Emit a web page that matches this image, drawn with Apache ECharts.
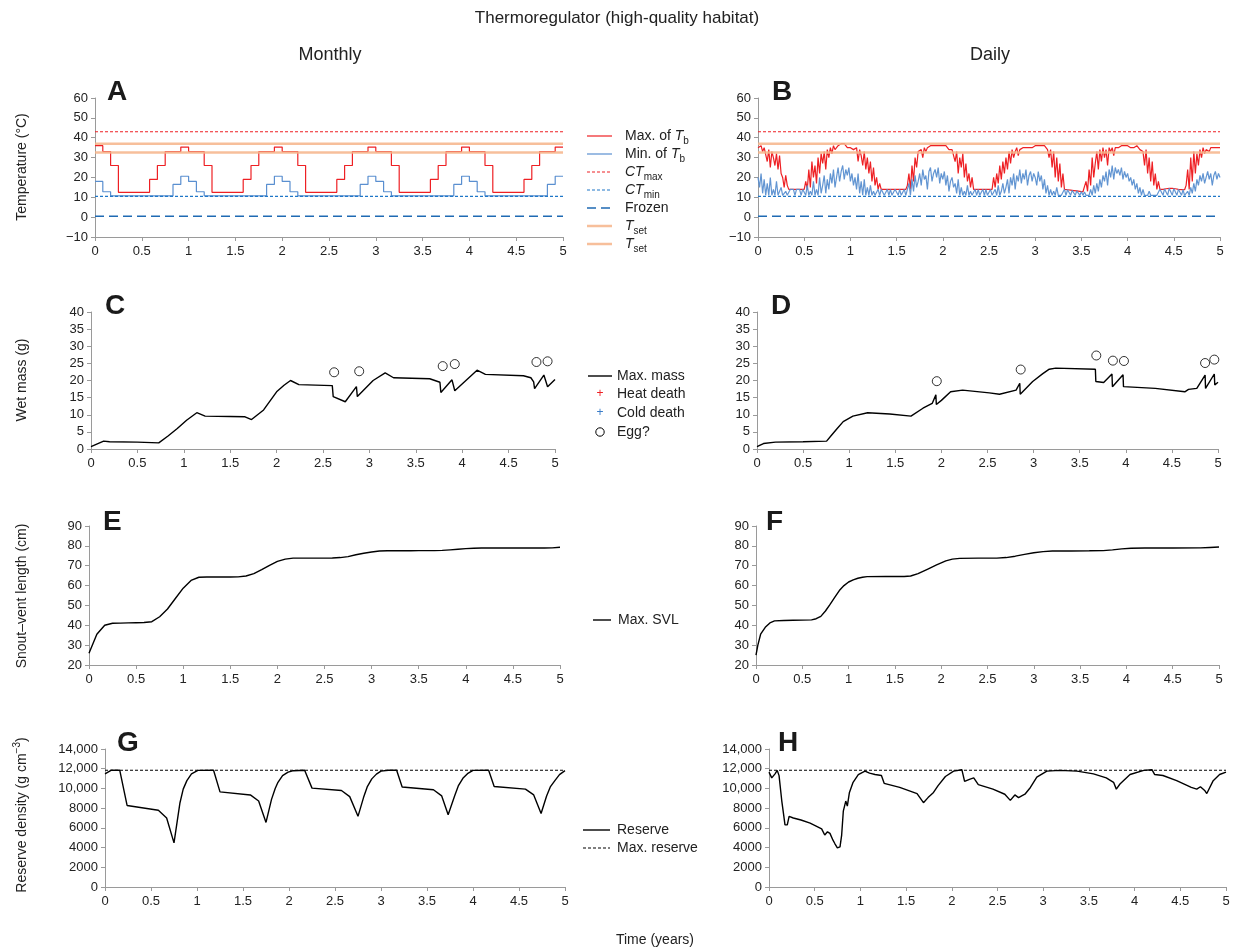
<!DOCTYPE html>
<html><head><meta charset="utf-8">
<script src="https://cdn.jsdelivr.net/npm/echarts@6/dist/echarts.min.js"></script>
<style>html,body{margin:0;padding:0;background:#fff}#c{width:1235px;height:948px}</style>
</head><body><div id="c"></div><script>
// ---------- DATA ----------
const xTicks = [0, 0.5, 1, 1.5, 2, 2.5, 3, 3.5, 4, 4.5, 5];
const CTmax = 43, CTmin = 10.5, frozen = 0.5, TsetHigh = 37, TsetLow = 32.5;
const maxReserve = 11850;

// monthly body temperature (one value per month, t = i/12)
const monthlyMaxTb = [
 36,33,26,12.5,12.5,12.5,12.5,19,26,33,33,35.3,
 33,33,26,12.5,12.5,12.5,12.5,19,26,33,33,35.3,
 33,33,26,12.5,12.5,12.5,12.5,19,26,33,33,35.3,
 33,33,26,12.5,12.5,12.5,12.5,19,26,33,33,35.3,
 33,33,26,12.5,12.5,12.5,12.5,19,26,33,33,35.3,
 35.3];
const monthlyMinTb = [
 18,12.8,10.7,10.7,10.7,10.7,10.7,10.7,10.7,10.7,16.5,20.6,
 18,12.8,10.7,10.7,10.7,10.7,10.7,10.7,10.7,10.7,16.5,20.6,
 18,12.8,10.7,10.7,10.7,10.7,10.7,10.7,10.7,10.7,16.5,20.6,
 18,12.8,10.7,10.7,10.7,10.7,10.7,10.7,10.7,10.7,16.5,20.6,
 18,12.8,10.7,10.7,10.7,10.7,10.7,10.7,10.7,10.7,16.5,20.6,
 20.6];

// daily body temperature, sampled every 1/60 year
const dailyMaxTb = [
 35,34,36,33,35,34, 28,34,25,33,30,26, 32,24,31,22,20,15, 21,16,14,
 14,14,14,14,14,14,14,14,14,14,
 18,14,24,15,28,20,26,17,30,22,32,
 27,33,24,34,30,35,32,36,34,
 35,36,35,37,36,37,36,35,36,
 35,36,34,
 33,35,28,34,31,26,33,24,30,22,28,18,25,16,
 20,14,17,14,
 14,14,14,14,14,14,14,14,14,14,14,14,14,14,14,14,
 16,22,14,26,18,30,25,33,
 32,34,30,35,33,35,34,36,35,36,37,36,37,36,35,
 36,35,36,35,34,35,34,35,
 28,33,22,30,25,32,20,27,18,
 22,15,20,14,
 14,14,14,14,14,14,14,14,14,14,14,14,
 20,15,22,17,26,19,28,22,
 30,24,33,27,34,30,33,35,31,34,
 35,35,34,35,36,35,36,35,36,
 36,35,36,35,36,35,36,35,34,
 30,34,25,33,20,30,18,27,15,22,
 14,14,13.8,13.7,13.6,13.5,13.4,13.3,13.2,13.1,13,12.9,12.8,12.7,
 18,13,24,16,30,20,27,
 33,24,34,28,35,30,34,26,35,33,35,31,35,34,35,
 35,36,35,36,35,
 36,35,35,36,35,35,36,35,34,35,
 33,26,34,22,30,18,28,16,22,14,18,
 14,14,14,14.2,14.3,14.4,14.5,14.5,14.5,14.4,14.3,14.2,14,14,13.9,13.8,13.8,
 16,24,14,30,18,33,22,32,26,34,
 30,35,32,34,35,33,35,34,35,36,35,34,
 35];
const dailyMinTb = [
 20,15,22,12,19,11, 17,11,20,11,14,11, 18,11,11,15,11,11, 13,11,11,
 14,14,14,11,14,14,14,11,14,14,
 11,16,11,13,11,18,11,14,11,20,12,
 16,21,12,19,14,22,17,24,15,
 20,25,18,23,26,19,24,21,25,
 18,22,16,
 20,14,22,12,18,11,19,11,15,11,16,11,13,11,
 11,14,11,14,
 14,11,11,14,11,14,11,11,14,14,11,14,11,11,14,11,
 12,17,11,19,13,21,15,18,
 22,16,24,19,21,14,23,25,18,22,24,20,25,17,22,
 19,23,16,21,13,18,20,15,
 17,12,19,11,15,11,13,11,16,
 11,13,11,11,
 14,11,14,11,11,14,11,14,11,11,14,11,
 11,14,11,16,11,13,17,12,
 15,19,12,20,16,22,14,21,18,24,
 17,22,19,24,16,21,23,18,22,
 20,16,23,18,21,14,19,12,16,
 11,14,11,13,11,15,11,12,11,11,
 14,11,13.8,13.7,11,13.5,13.4,11,13.2,13.1,11,12.9,11,12.7,
 11,12,11,14,11,16,12,
 17,13,19,15,21,18,23,16,24,20,26,19,25,22,24,
 21,25,19,23,20,
 22,18,20,16,19,14,17,12,15,11,
 14,11,12,11,13,11,11,11,12,11,11,
 14,14,11,14.2,14.3,11,14.5,14.5,11,14.4,14.3,11,14,14,11,13.8,11,
 11,13,11,15,12,17,13,19,16,21,
 18,22,17,20,23,19,22,16,21,23,19,22,
 20];

// wet mass [years, g]
const monthlyMass = [[0,0.7],[0.136,2.3],[0.2,2.1],[0.5,2.0],[0.73,1.8],[0.83,3.8],[0.93,6],[1.03,8.4],[1.14,10.6],[1.23,9.6],[1.5,9.5],[1.66,9.4],[1.73,8.6],[1.86,11.4],[2.0,16.7],[2.08,18.6],[2.15,20],[2.24,18.8],[2.6,18.5],[2.61,15.3],[2.74,13.8],[2.86,18.2],[2.87,15.3],[3.04,20],[3.17,22.2],[3.26,20.8],[3.65,20.5],[3.76,19.5],[3.77,16.5],[3.89,20.2],[3.92,17],[4.16,23],[4.25,21.8],[4.66,21.4],[4.74,20.8],[4.77,19.6],[4.78,17.6],[4.88,21.6],[4.92,18.2],[5.0,20.3]];
const monthlyEggs = [[2.62,22.4],[2.89,22.7],[3.79,24.2],[3.92,24.8],[4.8,25.4],[4.92,25.6]];
const dailyMass = [[0,0.7],[0.07,1.6],[0.2,2],[0.5,2.1],[0.755,2.3],[0.81,4.1],[0.87,6],[0.935,8],[1.04,9.6],[1.2,10.6],[1.44,10.2],[1.67,9.6],[1.8,11.9],[1.9,13.3],[1.94,15.8],[1.945,13],[2.0,14.2],[2.1,16.7],[2.12,16.3],[2.23,17.2],[2.52,16.4],[2.63,16],[2.81,17.2],[2.85,19.2],[2.855,16],[2.99,19.7],[3.1,22],[3.17,23.3],[3.24,23.6],[3.67,23.3],[3.675,19.7],[3.76,19.4],[3.85,21.9],[3.855,18.2],[3.97,21.7],[3.975,18.2],[4.32,17.7],[4.64,16.7],[4.68,17.4],[4.77,17.7],[4.86,21.6],[4.865,17.7],[4.96,21.9],[4.965,18.7],[5.0,19.5]];
const dailyEggs = [[1.95,19.8],[2.86,23.2],[3.68,27.3],[3.86,25.8],[3.98,25.7],[4.86,25.1],[4.96,26.1]];

// snout-vent length
const monthlySVL = [
 25.9,35.5,40,41,41.1,41.2,41.3,41.4,41.8,44.3,48.2,53.5,
 58.7,62.6,64.2,64.3,64.3,64.3,64.3,64.4,64.8,66,68,70.2,
 72.2,73.3,73.8,73.8,73.8,73.8,73.8,73.9,74.1,74.6,75.5,76.3,
 76.9,77.4,77.5,77.5,77.5,77.5,77.6,77.6,77.6,77.7,78,78.3,
 78.6,78.8,78.9,78.9,78.9,78.9,78.9,78.9,78.9,78.9,78.9,79,
 79.3];
const dailySVL = [[0,25],[0.02,30],[0.05,35.5],[0.1,39],[0.15,41.2],[0.2,42.2],[0.3,42.4],[0.4,42.5],[0.5,42.6],[0.6,42.7],[0.65,43.3],[0.7,44.5],[0.75,47.2],[0.8,50.5],[0.85,54],[0.9,57.5],[0.95,60],[1.0,61.8],[1.05,62.9],[1.1,63.7],[1.15,64.2],[1.2,64.5],[1.4,64.6],[1.6,64.6],[1.67,64.8],[1.75,66],[1.85,68.2],[1.95,70.4],[2.05,72.4],[2.12,73.3],[2.2,73.7],[2.4,73.8],[2.6,73.8],[2.7,74.1],[2.8,74.8],[2.9,75.7],[3.0,76.5],[3.1,77.1],[3.2,77.4],[3.4,77.4],[3.6,77.5],[3.75,77.6],[3.85,78],[3.95,78.5],[4.05,78.8],[4.2,78.9],[4.5,78.9],[4.8,79],[4.9,79.2],[5.0,79.4]];

// reserve density
const monthlyReserve = [[0,11480],[0.07,11850],[0.16,11850],[0.24,8270],[0.58,7790],[0.67,7000],[0.75,4480],[0.815,8550],[0.85,9930],[0.89,10790],[0.94,11480],[1.01,11830],[1.18,11850],[1.25,9650],[1.58,9340],[1.67,8720],[1.75,6550],[1.81,8890],[1.85,10000],[1.88,10620],[1.93,11300],[1.99,11650],[2.05,11800],[2.17,11850],[2.25,10030],[2.57,9790],[2.66,9170],[2.75,7170],[2.81,9070],[2.85,10150],[2.9,10970],[2.95,11450],[3.0,11760],[3.08,11840],[3.17,11850],[3.23,10140],[3.57,9860],[3.66,9240],[3.73,7340],[3.8,9240],[3.84,10250],[3.89,11030],[3.94,11500],[4.0,11830],[4.17,11850],[4.23,10200],[4.57,9930],[4.66,9340],[4.74,7450],[4.8,9240],[4.84,10150],[4.89,10790],[4.94,11400],[5.0,11800]];
const dailyReserve = [[0,11650],[0.03,11070],[0.066,11480],[0.09,11830],[0.11,11300],[0.14,8720],[0.16,7340],[0.175,6300],[0.2,6300],[0.22,7170],[0.237,7340],[0.266,7000],[0.35,6800],[0.45,6480],[0.576,5900],[0.61,5270],[0.64,5600],[0.667,5440],[0.7,4750],[0.72,4410],[0.748,3960],[0.777,4070],[0.795,5270],[0.813,7690],[0.84,8720],[0.857,8200],[0.88,9590],[0.92,10620],[0.977,11410],[1.05,11760],[1.1,11550],[1.16,11410],[1.23,11310],[1.26,10520],[1.43,10100],[1.62,9480],[1.69,8550],[1.74,9070],[1.8,9590],[1.85,10280],[1.93,11210],[2.02,11760],[2.11,11900],[2.14,10720],[2.2,10950],[2.24,11070],[2.29,10380],[2.45,9930],[2.58,9410],[2.64,8790],[2.69,9340],[2.73,9070],[2.8,9410],[2.86,10100],[2.93,11140],[3.04,11760],[3.18,11830],[3.37,11760],[3.55,11480],[3.69,11070],[3.77,10620],[3.8,9930],[3.84,10450],[3.95,11410],[4.1,11830],[4.19,11900],[4.22,11410],[4.31,11310],[4.46,10790],[4.62,10100],[4.68,9930],[4.72,10170],[4.77,9760],[4.79,9480],[4.86,10790],[4.93,11410],[5.0,11650]];

// ---------- CHART ----------
const FONT = '"Liberation Sans", Arial, sans-serif';
const RED = '#ee2024', BLUE = '#5a8fd0', CTBLUE = '#1f77c8', FRZ = '#1f6ab3', TSET = '#f6b48a';
const grids = [
 {left:95, top:98, width:468, height:139},
 {left:758, top:98, width:462, height:139},
 {left:91, top:312, width:464, height:137},
 {left:757, top:312, width:461, height:137},
 {left:89, top:526, width:471, height:139},
 {left:756, top:526, width:463, height:139},
 {left:105, top:749, width:460, height:138},
 {left:769, top:749, width:457, height:138}
];
const yRanges = [[-10,60,10],[-10,60,10],[0,40,5],[0,40,5],[20,90,10],[20,90,10],[0,14000,2000],[0,14000,2000]];
const axisLine = {lineStyle:{color:'#9a9a9a', width:1}};
const xAxes = grids.map((g,i)=>({type:'value', gridIndex:i, min:xTicks[0], max:xTicks[xTicks.length-1], interval:xTicks[1]-xTicks[0],
  axisLine:Object.assign({onZero:false}, axisLine), axisTick:{show:true, length:4, lineStyle:{color:'#9a9a9a'}},
  splitLine:{show:false}, axisLabel:{color:'#222', fontSize:13, fontFamily:FONT, margin:8}}));
const yAxes = grids.map((g,i)=>({type:'value', gridIndex:i, min:yRanges[i][0], max:yRanges[i][1], interval:yRanges[i][2],
  axisLine:Object.assign({show:true, onZero:false}, axisLine), axisTick:{show:true, length:4, lineStyle:{color:'#9a9a9a'}},
  splitLine:{show:false}, axisLabel:{color:'#222', fontSize:13, fontFamily:FONT, margin:7,
   formatter: v => v < 0 ? '\u2212' + Math.abs(v) : (v >= 10000 ? v.toLocaleString('en-US') : String(v))}}));

function ln(gi, data, color, width, opt) {
  return Object.assign({type:'line', xAxisIndex:gi, yAxisIndex:gi, data:data, symbol:'none', silent:true,
    lineStyle:{color:color, width:width}}, opt || {});
}
function hline(gi, v, color, width, dash, opacity) {
  return ln(gi, [[0,v],[5,v]], color, width, {lineStyle:{color:color, width:width, type:dash||'solid', opacity:opacity==null?1:opacity}});
}
const monthlyPts = arr => arr.map((v,i)=>[i/12, v]);
const dailyPts = arr => arr.map((v,i)=>[i/60, v]);

const series = [];
// A
series.push(ln(0, monthlyPts(monthlyMaxTb), RED, 1.2, {step:'end'}));
series.push(ln(0, monthlyPts(monthlyMinTb), BLUE, 1.2, {step:'end'}));
// B
series.push(ln(1, dailyPts(dailyMaxTb), RED, 1.2));
series.push(ln(1, dailyPts(dailyMinTb), BLUE, 1.2, {lineStyle:{color:BLUE, width:1.2, opacity:0.95}}));
[0,1].forEach(g=>{
  series.push(hline(g, CTmax, RED, 1.2, [3,2]));
  series.push(hline(g, CTmin, CTBLUE, 1.2, [3,2]));
  series.push(hline(g, frozen, FRZ, 1.5, [9,5]));
  series.push(hline(g, TsetHigh, TSET, 2.5, 'solid', 0.85));
  series.push(hline(g, TsetLow, TSET, 2.5, 'solid', 0.85));
});
// C, D
series.push(ln(2, monthlyMass, '#000', 1.4));
series.push(ln(3, dailyMass, '#000', 1.4));
const egg = (gi, d) => ({type:'scatter', xAxisIndex:gi, yAxisIndex:gi, data:d, symbol:'circle', symbolSize:9, silent:true,
  itemStyle:{color:'#fff', borderColor:'#000', borderWidth:1}});
series.push(egg(2, monthlyEggs));
series.push(egg(3, dailyEggs));
// E, F
series.push(ln(4, monthlyPts(monthlySVL), '#000', 1.4));
series.push(ln(5, dailySVL, '#000', 1.4));
// G, H
series.push(ln(6, monthlyReserve, '#000', 1.4));
series.push(ln(7, dailyReserve, '#000', 1.4));
series.push(hline(6, maxReserve, '#000', 1.1, [3,2]));
series.push(hline(7, maxReserve, '#000', 1.1, [3,2]));

// ---------- ANNOTATIONS ----------
const G = [];
function txt(x, y, text, size, opts) {
  G.push(Object.assign({type:'text', x:x, y:y, silent:true, style:Object.assign({text:text, font:size+'px '+FONT, fill:'#222',
    align:'center', verticalAlign:'middle', textAlign:'center', textVerticalAlign:'middle'}, (opts&&opts.style)||{})}, (opts&&opts.el)||{}));
}
txt(617, 18, 'Thermoregulator (high-quality habitat)', 17);
txt(330, 55, 'Monthly', 18);
txt(990, 55, 'Daily', 18);
txt(655, 940, 'Time (years)', 14);
const letters = [['A',107,92],['B',772,92],['C',105,306],['D',771,306],['E',103,522],['F',766,522],['G',117,743],['H',778,743]];
letters.forEach(l=>txt(l[1], l[2], l[0], 28, {style:{font:'bold 28px '+FONT, fill:'#1a1a1a', align:'left', textAlign:'left'}}));

const rich = {
  n:{fontSize:14, fontFamily:FONT, fill:'#222', lineHeight:20, verticalAlign:'middle'},
  i:{fontSize:14, fontFamily:FONT, fontStyle:'italic', fill:'#222', lineHeight:20, verticalAlign:'middle'},
  s:{fontSize:10, fontFamily:FONT, fill:'#222', lineHeight:11, verticalAlign:'bottom'},
  p:{fontSize:10, fontFamily:FONT, fill:'#222', lineHeight:11, verticalAlign:'top'}
};
function rtxt(x, y, text, align, rot) {
  G.push({type:'text', x:x, y:y, rotation:rot||0, silent:true,
    style:{text:text, rich:rich, font:'14px '+FONT, fill:'#222', align:align, verticalAlign:'middle', textAlign:align, textVerticalAlign:'middle'}});
}
// y-axis titles
rtxt(22, 167, '{n|Temperature (°C)}', 'center', Math.PI/2);
rtxt(22, 380, '{n|Wet mass (g)}', 'center', Math.PI/2);
rtxt(22, 596, '{n|Snout\u2013vent length (cm)}', 'center', Math.PI/2);
rtxt(22, 815, '{n|Reserve density (g cm}{p|\u22123}{n|)}', 'center', Math.PI/2);

function lseg(x1, x2, y, color, width, dash, opacity) {
  G.push({type:'line', silent:true, shape:{x1:x1, y1:y, x2:x2, y2:y},
    style:{stroke:color, lineWidth:width, lineDash:dash||null, opacity:opacity==null?1:opacity}});
}
// legend A
const la = [136, 154, 172, 190, 208, 226, 244];
lseg(587, 612, la[0], RED, 1.2);           rtxt(625, la[0], '{n|Max. of }{i|T}{s|b}', 'left');
lseg(587, 612, la[1], BLUE, 1.2);          rtxt(625, la[1], '{n|Min. of }{i|T}{s|b}', 'left');
lseg(587, 612, la[2], RED, 1.2, [3,2]);    rtxt(625, la[2], '{i|CT}{s|max}', 'left');
lseg(587, 612, la[3], CTBLUE, 1.2, [3,2]); rtxt(625, la[3], '{i|CT}{s|min}', 'left');
lseg(587, 612, la[4], FRZ, 1.5, [9,5]);    rtxt(625, la[4], '{n|Frozen}', 'left');
lseg(587, 612, la[5], TSET, 2.5, null, 0.85); rtxt(625, la[5], '{i|T}{s|set}', 'left');
lseg(587, 612, la[6], TSET, 2.5, null, 0.85); rtxt(625, la[6], '{i|T}{s|set}', 'left');
// legend C
lseg(588, 612, 376, '#000', 1.4); rtxt(617, 376, '{n|Max. mass}', 'left');
txt(600, 394, '+', 12, {style:{fill:RED}}); rtxt(617, 394, '{n|Heat death}', 'left');
txt(600, 413, '+', 12, {style:{fill:'#3a7cc8'}}); rtxt(617, 413, '{n|Cold death}', 'left');
G.push({type:'circle', silent:true, shape:{cx:600, cy:432, r:4.2}, style:{fill:'#fff', stroke:'#000', lineWidth:1}});
rtxt(617, 432, '{n|Egg?}', 'left');
// legend E
lseg(593, 611, 620, '#000', 1.4); rtxt(618, 620, '{n|Max. SVL}', 'left');
// legend G
lseg(583, 610, 830, '#000', 1.4); rtxt(617, 830, '{n|Reserve}', 'left');
lseg(583, 610, 848, '#000', 1.1, [3,2]); rtxt(617, 848, '{n|Max. reserve}', 'left');

const chart = echarts.init(document.getElementById('c'), null, {renderer:'canvas'});
chart.setOption({
  animation:false, backgroundColor:'#fff',
  textStyle:{fontFamily:FONT},
  grid:grids, xAxis:xAxes, yAxis:yAxes, series:series, graphic:G
});
</script></body></html>
